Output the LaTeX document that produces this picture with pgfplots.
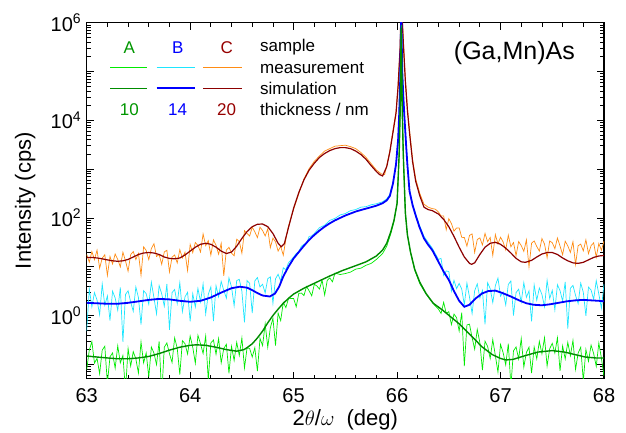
\documentclass[border=0pt]{standalone}
\usepackage{pgfplots}
\pgfplotsset{compat=1.18}
\usepackage{fontspec}
\setmainfont{Liberation Sans}
\definecolor{cOrange}{RGB}{255,140,20}
\definecolor{cBrown}{RGB}{140,0,0}
\definecolor{cCyan}{RGB}{30,230,255}
\definecolor{cBlue}{RGB}{0,0,255}
\definecolor{cLime}{RGB}{0,235,0}
\definecolor{cDGreen}{RGB}{0,140,0}
\definecolor{cA}{RGB}{0,150,0}
\definecolor{cC}{RGB}{150,0,0}
\begin{document}
\begin{tikzpicture}
\useasboundingbox (0,0) rectangle (626pt,433pt);
\begin{axis}[
 at={(86.7pt,54.5pt)}, anchor=south west,
 scale only axis, width=517.3pt, height=355.8pt,
 xmin=63, xmax=68, ymode=log, ymin=0.0512, ymax=1e6,
 xtick={63,64,65,66,67,68}, xticklabels={63,64,65,66,67,68},
 minor x tick num=4,
 ytick={0.1,1,10,100,1000,10000,100000,1000000},
 yticklabels={,10\textsuperscript{0},,10\textsuperscript{2},,10\textsuperscript{4},,10\textsuperscript{6}},
 minor ytick={0.06,0.07,0.08,0.09,0.2,0.3,0.4,0.5,0.6,0.7,0.8,0.9,2,3,4,5,6,7,8,9,20,30,40,50,60,70,80,90,200,300,400,500,600,700,800,900,2000,3000,4000,5000,6000,7000,8000,9000,20000,30000,40000,50000,60000,70000,80000,90000,200000,300000,400000,500000,600000,700000,800000,900000},
 tick align=inside,
 major tick length=7pt, minor tick length=4pt,
 every tick/.append style={black, line width=0.8pt},
 axis line style={line width=1.2pt},
 tick label style={font=\fontsize{20}{20}\selectfont},
 xticklabel style={anchor=center, yshift=-17.5pt},
 yticklabel style={xshift=-2pt},
 xlabel={2$\theta$/$\omega$\ \ (deg)},
 ylabel={Intensity (cps)},
 every axis x label/.style={at={(axis description cs:0.5,-0.1166)}, anchor=center, font=\fontsize{22}{22}\selectfont},
 every axis y label/.style={at={(axis description cs:-0.119,0.5)}, rotate=90, anchor=center, font=\fontsize{22}{22}\selectfont},
 no markers,
]
% C measurement (orange)
\addplot[cOrange, line width=0.7pt] coordinates {
(63.000,17.9)(63.025,12.4)(63.050,20.4)(63.075,14.0)(63.100,21.9)(63.125,9.3)(63.150,15.0)(63.175,17.6)(63.200,6.6)(63.225,16.2)
(63.250,11.4)(63.275,18.2)(63.300,14.1)(63.325,9.9)(63.350,19.8)(63.375,13.2)(63.400,8.1)(63.425,17.7)(63.450,20.5)(63.475,14.0)
(63.500,18.8)(63.525,6.7)(63.550,25.6)(63.575,21.5)(63.600,14.0)(63.625,23.6)(63.650,29.6)(63.675,16.2)(63.700,17.8)(63.725,11.2)
(63.750,20.1)(63.775,21.7)(63.800,7.8)(63.825,15.7)(63.850,17.4)(63.875,11.9)(63.900,22.3)(63.925,15.1)(63.950,19.8)(63.975,8.3)
(64.000,28.6)(64.025,19.4)(64.050,31.3)(64.075,27.4)(64.100,20.0)(64.125,46.8)(64.150,27.0)(64.175,34.2)(64.200,17.2)(64.225,35.5)
(64.250,27.5)(64.275,18.0)(64.300,30.2)(64.325,6.5)(64.350,22.0)(64.375,25.0)(64.400,18.9)(64.425,16.7)(64.450,36.6)(64.475,32.8)
(64.500,18.9)(64.525,54.7)(64.550,47.9)(64.575,42.7)(64.600,64.6)(64.625,51.9)(64.650,39.4)(64.675,64.6)(64.700,55.0)(64.725,42.7)
(64.750,59.6)(64.775,24.5)(64.800,38.5)(64.825,32.4)(64.850,20.9)(64.875,26.0)(64.900,17.2)(64.925,36.7)(64.950,67.6)
(65.000,151)(65.050,316)(65.100,631)(65.150,1023)(65.200,1445)(65.250,1862)(65.300,2344)(65.350,2630)(65.400,2951)(65.450,3020)
(65.500,3090)(65.550,2884)(65.600,2630)(65.650,2188)(65.700,1738)(65.750,1288)(65.800,955)(65.850,794)(65.880,776)(65.900,1175)
(65.930,2399)(65.960,6026)(65.990,15136)(66.010,53700)(66.030,354800)(66.040,3980000)(66.060,446700)(66.080,70800)(66.100,17780)
(66.120,6310)(66.150,1585)(66.180,631)(66.220,316)(66.260,191)(66.300,166)(66.340,155)(66.370,151)(66.400,132)
(66.425,110)(66.450,110)(66.475,56.9)(66.500,96.4)(66.525,76.6)(66.550,53.5)(66.575,62.2)(66.600,62.5)(66.625,39.9)(66.650,39.8)
(66.675,26.4)(66.700,43.8)(66.725,47.1)(66.750,19.5)(66.775,36.1)(66.800,38.9)(66.825,27.9)(66.850,48.1)(66.875,32.5)(66.900,39.7)
(66.925,17.0)(66.950,45.6)(66.975,29.3)(67.000,40.2)(67.025,32.1)(67.050,22.1)(67.075,44.2)(67.100,25.6)(67.125,31.3)(67.150,16.9)
(67.175,32.7)(67.200,27.2)(67.225,20.6)(67.250,35.5)(67.275,9.9)(67.300,30.4)(67.325,33.7)(67.350,25.9)(67.375,20.9)(67.400,37.7)
(67.425,29.1)(67.450,15.3)(67.475,33.7)(67.500,31.0)(67.525,23.4)(67.550,38.8)(67.575,26.5)(67.600,17.6)(67.625,33.3)(67.650,26.8)
(67.675,19.6)(67.700,32.6)(67.725,11.1)(67.750,26.9)(67.775,29.1)(67.800,21.1)(67.825,35.6)(67.850,18.5)(67.875,27.0)(67.900,30.9)
(67.925,15.7)(67.950,29.9)(67.975,21.7)(68.000,33.5)
};
% C simulation (dark red)
\addplot[cBrown, line width=1.2pt] coordinates {
(63.00,15.5)(63.05,15.5)(63.10,15.1)(63.15,14.5)(63.20,13.8)(63.25,13.2)(63.30,12.9)(63.35,13.2)(63.40,14.1)(63.45,15.8)
(63.50,17.8)(63.55,19.1)(63.60,19.5)(63.65,19.1)(63.70,17.8)(63.75,15.8)(63.80,14.8)(63.85,14.5)(63.90,15.1)(63.95,17.4)
(64.00,20.9)(64.05,25.1)(64.10,28.8)(64.15,30.2)(64.20,28.8)(64.25,25.1)(64.30,20.9)(64.35,18.6)(64.40,20.0)(64.45,26.3)
(64.50,38.0)(64.55,52.5)(64.60,66.1)(64.65,74.1)(64.70,75.0)(64.75,66.1)(64.80,47.9)(64.85,30.2)(64.88,25.7)(64.91,29.5)
(64.95,63.1)(65.00,158)(65.05,331)(65.10,603)(65.15,955)(65.20,1318)(65.25,1738)(65.30,2089)(65.35,2399)(65.40,2630)
(65.45,2754)(65.50,2754)(65.55,2630)(65.60,2344)(65.65,1995)(65.70,1585)(65.75,1175)(65.80,891)(65.83,776)(65.86,724)
(65.90,1122)(65.93,2239)(65.96,5623)(65.99,14125)(66.01,50119)(66.03,316228)(66.04,3160000)(66.06,398107)(66.08,63096)(66.10,15849)
(66.12,5623)(66.15,1413)(66.18,562)(66.22,282)(66.26,166)(66.30,148)(66.34,141)(66.40,120)(66.45,93.3)(66.50,66.1)
(66.55,41.7)(66.60,25.1)(66.65,15.8)(66.70,11.7)(66.72,11.2)(66.75,12.0)(66.80,17.8)(66.85,25.1)(66.90,30.2)(66.95,31.6)
(67.00,28.8)(67.05,24.0)(67.10,19.1)(67.15,14.8)(67.20,12.6)(67.24,12.3)(67.30,13.5)(67.35,15.8)(67.40,18.2)(67.45,19.5)
(67.50,19.5)(67.55,17.8)(67.60,15.1)(67.65,13.2)(67.70,12.0)(67.75,11.7)(67.80,12.3)(67.85,13.8)(67.90,15.5)(67.95,16.6)(68.00,17.0)
};
% B measurement (cyan)
\addplot[cCyan, line width=0.7pt] coordinates {
(63.000,0.479)(63.025,3.51)(63.050,1.51)(63.075,2.95)(63.100,2.06)(63.125,1.04)(63.150,4.42)(63.175,1.62)(63.200,2.52)(63.225,0.791)
(63.250,3.16)(63.275,2.29)(63.300,1.28)(63.325,3.76)(63.350,0.288)(63.375,2.70)(63.400,3.21)(63.425,1.89)(63.450,1.22)(63.475,3.84)
(63.500,2.33)(63.525,0.654)(63.550,3.23)(63.575,2.80)(63.600,1.70)(63.625,4.82)(63.650,2.32)(63.675,1.08)(63.700,4.11)(63.725,2.78)
(63.750,1.55)(63.775,4.45)(63.800,0.511)(63.825,2.95)(63.850,3.41)(63.875,1.76)(63.900,4.70)(63.925,1.20)(63.950,2.41)(63.975,2.99)
(64.000,0.762)(64.025,2.80)(64.050,1.49)(64.075,3.59)(64.100,1.91)(64.125,4.44)(64.150,1.08)(64.175,2.70)(64.200,3.87)(64.225,0.767)
(64.250,4.07)(64.275,2.42)(64.300,5.0)(64.325,3.27)(64.350,2.26)(64.375,5.9)(64.400,3.82)(64.425,1.58)(64.450,5.20)(64.475,5.5)
(64.500,3.13)(64.525,0.724)(64.550,5.2)(64.575,4.55)(64.600,1.12)(64.625,5.11)(64.650,6.0)(64.675,3.84)(64.700,4.37)(64.725,2.91)
(64.750,5.68)(64.775,6.2)(64.800,1.78)(64.825,5.65)(64.850,7.0)(64.875,5.06)(64.900,9.5)(64.925,8.67)(64.950,12.0)
(65.000,15.8)(65.025,18.6)(65.050,20.4)(65.075,26.3)(65.100,28.8)(65.125,30.2)(65.150,41.7)(65.175,42.7)(65.200,47.9)(65.250,63.1)
(65.300,70.8)(65.350,89.1)(65.400,97.7)(65.450,115)(65.500,123)(65.550,141)(65.600,148)(65.650,166)(65.700,170)(65.750,186)
(65.800,195)(65.860,214)(65.900,245)(65.930,302)(65.960,537)(65.990,1349)(66.010,4266)(66.020,13490)(66.030,67608)(66.040,1780000)
(66.050,112202)(66.060,35481)(66.070,13490)(66.090,2692)(66.100,1288)(66.120,380)(66.150,195)(66.180,120)(66.215,72.4)(66.260,41.7)
(66.300,31.6)(66.340,24.0)(66.400,14.1)
(66.425,14.8)(66.450,6.61)(66.475,8.17)(66.500,7.98)(66.525,3.16)(66.550,5.25)(66.575,3.56)(66.600,4.55)(66.625,3.47)(66.650,1.66)
(66.675,4.61)(66.700,2.38)(66.725,1.10)(66.750,3.22)(66.775,4.45)(66.800,2.29)(66.825,3.28)(66.850,0.661)(66.875,4.70)(66.900,3.56)
(66.925,1.84)(66.950,4.09)(66.975,5.86)(67.000,2.49)(67.025,3.02)(67.050,1.64)(67.075,4.33)(67.100,5.11)(67.125,1.00)(67.150,2.94)
(67.175,3.47)(67.200,1.89)(67.225,4.70)(67.250,2.36)(67.275,3.19)(67.300,0.759)(67.325,4.21)(67.350,2.05)(67.375,3.66)(67.400,2.70)
(67.425,1.51)(67.450,5.25)(67.475,2.23)(67.500,3.28)(67.525,1.30)(67.550,4.27)(67.575,3.24)(67.600,1.97)(67.625,4.90)(67.650,0.537)
(67.675,3.61)(67.700,4.15)(67.725,2.59)(67.750,1.76)(67.775,4.63)(67.800,2.98)(67.825,0.986)(67.850,3.82)(67.875,3.33)(67.900,2.14)
(67.925,5.18)(67.950,2.74)(67.975,1.41)(68.000,4.39)
};
% B simulation (blue)
\addplot[cBlue, line width=1.8pt] coordinates {
(63.00,1.82)(63.10,1.78)(63.20,1.74)(63.30,1.74)(63.40,1.82)(63.50,1.95)(63.60,2.09)(63.70,2.19)(63.80,2.14)(63.90,2.00)
(64.00,1.91)(64.10,2.00)(64.20,2.34)(64.30,2.95)(64.40,3.63)(64.48,3.89)(64.55,3.72)(64.60,3.31)(64.65,2.88)(64.70,2.57)
(64.77,2.45)(64.82,2.82)(64.86,3.89)(64.90,6.31)(64.95,10.0)(65.00,14.8)(65.05,20.0)(65.10,26.9)(65.15,35.5)(65.20,44.7)
(65.25,55.0)(65.30,66.1)(65.35,77.6)(65.40,89.1)(65.45,100)(65.50,112)(65.55,123)(65.60,135)(65.65,145)(65.70,155)
(65.75,166)(65.80,178)(65.86,200)(65.90,229)(65.93,282)(65.96,501)(65.99,1259)(66.01,3981)(66.02,12589)(66.03,63096)
(66.04,1580000)(66.05,100000)(66.06,31623)(66.07,12589)(66.09,2512)(66.10,1202)(66.12,355)(66.15,182)(66.18,112)(66.215,66.1)
(66.26,38.0)(66.30,28.2)(66.34,21.9)(66.40,12.6)(66.45,7.94)(66.50,5.37)(66.55,3.16)(66.60,2.00)(66.65,1.51)(66.70,1.66)
(66.76,2.24)(66.82,2.82)(66.88,3.16)(66.95,3.24)(67.02,2.88)(67.10,2.45)(67.18,2.04)(67.25,1.78)(67.32,1.66)(67.40,1.62)
(67.48,1.70)(67.56,1.82)(67.64,1.95)(67.72,2.04)(67.80,2.09)(67.88,2.04)(67.95,2.00)(68.00,1.95)
};
% A measurement (bright green)
\addplot[cLime, line width=0.7pt] coordinates {
(63.000,0.0773)(63.025,0.195)(63.050,0.292)(63.075,0.106)(63.100,0.132)(63.125,0.0641)(63.150,0.196)(63.175,0.235)(63.200,0.0407)(63.225,0.142)
(63.250,0.171)(63.275,0.0832)(63.300,0.239)(63.325,0.107)(63.350,0.152)(63.375,0.0285)(63.400,0.210)(63.425,0.0918)(63.450,0.182)(63.475,0.129)
(63.500,0.0661)(63.525,0.287)(63.550,0.107)(63.575,0.171)(63.600,0.0547)(63.625,0.226)(63.650,0.170)(63.675,0.0984)(63.700,0.295)(63.725,0.0233)
(63.750,0.224)(63.775,0.274)(63.800,0.165)(63.825,0.109)(63.850,0.348)(63.875,0.215)(63.900,0.0614)(63.925,0.305)(63.950,0.265)(63.975,0.162)
(64.000,0.380)(64.025,0.224)(64.050,0.105)(64.075,0.393)(64.100,0.264)(64.125,0.167)(64.150,0.380)(64.175,0.0476)(64.200,0.274)(64.225,0.315)
(64.250,0.161)(64.275,0.337)(64.300,0.107)(64.325,0.211)(64.350,0.257)(64.375,0.0652)(64.400,0.233)(64.425,0.120)(64.450,0.282)(64.475,0.151)
(64.500,0.347)(64.525,0.0841)(64.550,0.218)(64.575,0.211)(64.600,0.141)(64.625,0.219)(64.650,0.0724)(64.675,0.339)(64.700,0.242)(64.725,0.674)
(64.750,0.224)(64.775,0.561)(64.800,0.879)(64.825,0.243)(64.850,1.12)(64.875,0.783)(64.900,1.85)(64.925,1.45)(64.950,2.21)
(65.000,2.24)(65.025,1.51)(65.050,2.85)(65.075,2.88)(65.100,2.57)(65.125,3.94)(65.150,3.20)(65.175,2.54)(65.200,4.37)(65.225,4.03)
(65.250,3.47)(65.275,5.31)(65.300,2.63)(65.325,5.25)(65.350,5.89)(65.375,4.90)(65.400,7.41)(65.450,6.92)(65.500,7.24)(65.550,7.76)
(65.600,8.91)(65.650,9.33)(65.700,10.7)(65.750,11.7)(65.800,14.1)(65.860,18.6)(65.900,26.3)(65.940,47.9)(65.970,83.2)(66.000,191)
(66.020,1995)(66.030,17783)(66.040,891251)(66.050,17783)(66.060,1995)(66.080,126)(66.100,44.7)(66.130,19.1)(66.170,8.51)(66.220,4.47)
(66.280,2.75)(66.350,1.74)(66.400,1.35)
(66.425,1.10)(66.450,1.86)(66.475,1.11)(66.500,1.20)(66.525,0.649)(66.550,1.07)(66.575,0.902)(66.600,0.480)(66.625,1.15)(66.650,0.0923)
(66.675,0.641)(66.700,0.664)(66.725,0.352)(66.750,0.204)(66.775,0.518)(66.800,0.279)(66.825,0.0760)(66.850,0.297)(66.875,0.233)(66.900,0.132)
(66.925,0.321)(66.950,0.150)(66.975,0.0692)(67.000,0.256)(67.025,0.173)(67.050,0.0973)(67.075,0.264)(67.100,0.0360)(67.125,0.189)(67.150,0.227)
(67.175,0.129)(67.200,0.338)(67.225,0.0877)(67.250,0.175)(67.275,0.224)(67.300,0.0659)(67.325,0.226)(67.350,0.129)(67.375,0.295)(67.400,0.164)
(67.425,0.351)(67.450,0.0923)(67.475,0.209)(67.500,0.269)(67.525,0.170)(67.550,0.351)(67.575,0.0731)(67.600,0.238)(67.625,0.129)(67.650,0.282)
(67.675,0.150)(67.700,0.309)(67.725,0.0785)(67.750,0.170)(67.775,0.224)(67.800,0.0457)(67.825,0.200)(67.850,0.115)(67.875,0.248)(67.900,0.166)
(67.925,0.0906)(67.950,0.273)(67.975,0.133)(68.000,0.0575)
};
% A simulation (dark green)
\addplot[cDGreen, line width=1.4pt] coordinates {
(63.00,0.148)(63.10,0.141)(63.20,0.135)(63.30,0.130)(63.40,0.130)(63.50,0.135)(63.60,0.145)(63.70,0.166)(63.80,0.195)(63.90,0.224)
(64.00,0.245)(64.06,0.251)(64.15,0.245)(64.25,0.224)(64.35,0.200)(64.45,0.186)(64.52,0.200)(64.55,0.219)(64.60,0.263)(64.65,0.347)
(64.70,0.479)(64.75,0.708)(64.80,1.00)(64.85,1.35)(64.90,1.78)(64.96,2.34)(65.00,2.75)(65.10,3.63)(65.22,4.79)(65.35,6.46)
(65.47,8.32)(65.60,10.5)(65.70,12.6)(65.80,16.6)(65.86,21.9)(65.90,30.2)(65.94,52.5)(65.97,89.1)(66.00,200)(66.02,1995)
(66.03,15849)(66.04,794328)(66.05,15849)(66.06,1995)(66.08,126)(66.10,44.7)(66.13,20.0)(66.17,8.91)(66.22,4.79)(66.28,2.82)
(66.35,1.78)(66.44,1.29)(66.52,0.933)(66.60,0.676)(66.70,0.417)(66.82,0.229)(66.92,0.158)(67.00,0.132)(67.05,0.123)(67.12,0.126)
(67.24,0.151)(67.36,0.178)(67.50,0.191)(67.62,0.178)(67.72,0.158)(67.82,0.141)(67.92,0.135)(68.00,0.135)
};
\end{axis}
% legend block
\begin{scope}[every node/.style={inner sep=0pt, font=\fontsize{17}{17}\selectfont}]
\node[text=cA] at (129.3pt,385.7pt) {A};
\node[text=cBlue] at (177.7pt,385.7pt) {B};
\node[text=cC] at (226.7pt,385.7pt) {C};
\node[anchor=west] at (260pt,385.7pt) {sample};
\draw[cLime, line width=0.9pt] (110pt,365.3pt) -- (147.3pt,365.3pt);
\draw[cCyan, line width=0.9pt] (156.7pt,365.3pt) -- (195pt,365.3pt);
\draw[cOrange, line width=0.9pt] (203.3pt,365.3pt) -- (241.7pt,365.3pt);
\node[anchor=west] at (260pt,365.3pt) {measurement};
\draw[cDGreen, line width=1.4pt] (110pt,344.7pt) -- (147.3pt,344.7pt);
\draw[cBlue, line width=1.6pt] (156.7pt,344.7pt) -- (195pt,344.7pt);
\draw[cBrown, line width=1.2pt] (203.3pt,344.7pt) -- (241.7pt,344.7pt);
\node[anchor=west] at (260pt,344.7pt) {simulation};
\node[text=cA] at (129.3pt,323.7pt) {10};
\node[text=cBlue] at (177.7pt,323.7pt) {14};
\node[text=cC] at (226.7pt,323.7pt) {20};
\node[anchor=west] at (260pt,323.7pt) {thickness / nm};
\end{scope}
\node[anchor=east, inner sep=0pt, font=\fontsize{25}{25}\selectfont] at (575pt,379.7pt) {(Ga,Mn)As};
\end{tikzpicture}
\end{document}
